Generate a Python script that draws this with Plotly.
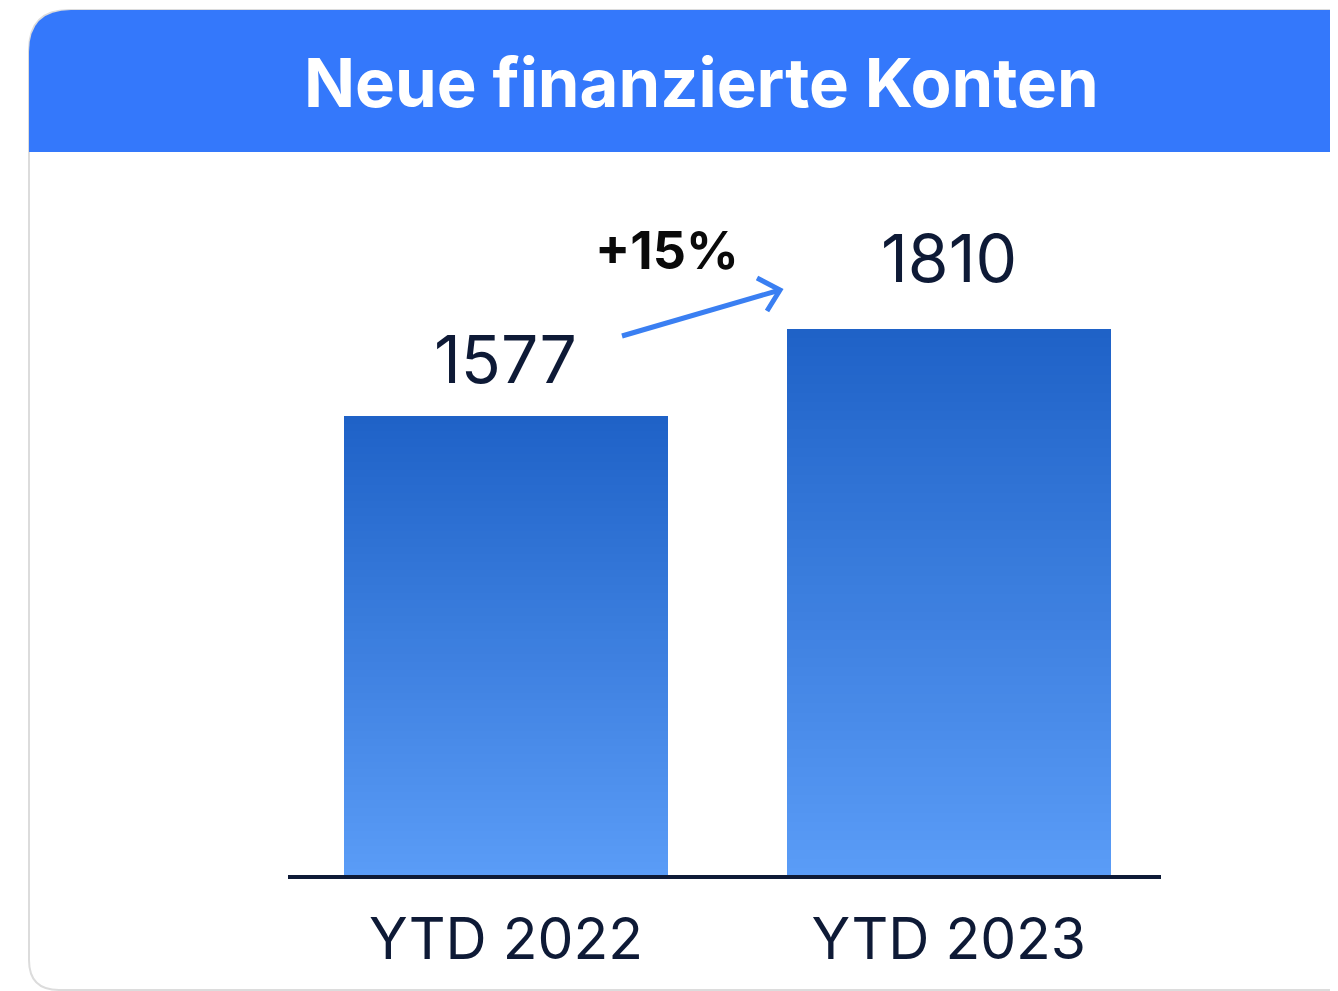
import plotly.graph_objects as go

# ---- data ----
categories = ["YTD 2022", "YTD 2023"]
values = [1577, 1810]
value_labels = ["1577", "1810"]
change_label = "+15%"
title_text = "Neue finanzierte Konten"

# ---- layout constants (pixels, page coords; page has 8px body offset) ----
OFF = 8
W, H = 1330, 983
L, T = 288 - OFF, 160 - OFF
R = W - (1161 - OFF)
B = H - (877 - OFF)
PW, PH = W - L - R, H - T - B
Y0, Y1 = 342.4, 2262.6
X0, X1 = -0.492, 1.479
BAR_W = 0.731
LABEL_SHIFTS = [15, 29]

TOP_C = (31, 98, 199)
BOT_C = (90, 156, 247)
NAVY = "#0e1a36"


def px(x):
    return (x - OFF - L) / PW


def py(y):
    return (H - B - (y - OFF)) / PH


def lerp(c1, c2, t):
    return "rgb(%d,%d,%d)" % tuple(round(a + (b - a) * t) for a, b in zip(c1, c2))


fig = go.Figure()

# gradient bars: each bar split into thin stacked slices
N = 60
for i, (cat, v) in enumerate(zip(categories, values)):
    step = (v - Y0) / N
    bases = [Y0 + k * step for k in range(N)]
    cols = [lerp(BOT_C, TOP_C, (k + 0.5) / N) for k in range(N)]
    fig.add_trace(go.Bar(
        x=[i] * N, y=[step * 1.02] * N, base=bases, width=BAR_W,
        marker=dict(color=cols, line=dict(width=0)),
        showlegend=False, hoverinfo="skip",
    ))

# value labels
for i, (v, lab) in enumerate(zip(values, value_labels)):
    fig.add_annotation(x=i, y=v, text=lab, showarrow=False, yanchor="bottom",
                       yshift=LABEL_SHIFTS[i], font=dict(family="Inter", size=66, color=NAVY))

shapes = []
# card background + border
card = (f"M {px(1400)},{py(1010)} L {px(1400)},{py(10)} L {px(69)},{py(10)} "
        f"Q {px(29)},{py(10)} {px(29)},{py(50)} L {px(29)},{py(960)} "
        f"Q {px(29)},{py(990)} {px(59)},{py(990)} L {px(1400)},{py(990)}")
shapes.append(dict(type="path", xref="paper", yref="paper", path=card,
                   fillcolor="white", line=dict(color="#dcdcdc", width=2), layer="below"))
# header band
hdr = (f"M {px(29)},{py(152)} L {px(29)},{py(52)} Q {px(29)},{py(10)} {px(71)},{py(10)} "
       f"L {px(1400)},{py(10)} L {px(1400)},{py(152)} Z")
shapes.append(dict(type="path", xref="paper", yref="paper", path=hdr,
                   fillcolor="#3478fb", line=dict(width=0), layer="below"))
# baseline
shapes.append(dict(type="line", xref="paper", yref="paper", x0=0, x1=1, y0=0, y1=0,
                   line=dict(color=NAVY, width=4)))
# change arrow
ax0, ay0, ax1, ay1 = 622, 336, 780, 290
shapes.append(dict(type="line", xref="paper", yref="paper",
                   x0=px(ax0), y0=py(ay0), x1=px(ax1), y1=py(ay1),
                   line=dict(color="#3a7ff2", width=5)))
shapes.append(dict(type="path", xref="paper", yref="paper",
                   path=f"M {px(757)},{py(278)} L {px(ax1)},{py(ay1)} L {px(767)},{py(311)}",
                   line=dict(color="#3a7ff2", width=5)))
fig.update_layout(shapes=shapes)

fig.add_annotation(xref="paper", yref="paper", x=px(667), y=py(250), text=f"<b>{change_label}</b>",
                   showarrow=False, xanchor="center", yanchor="middle",
                   font=dict(family="Inter", size=52, color="#0a0a0a"))

fig.add_annotation(xref="paper", yref="paper", x=px(701), y=py(82), text=f"<b>{title_text}</b>",
                   showarrow=False, xanchor="center", yanchor="middle",
                   font=dict(family="Inter", size=67, color="white"))

fig.update_layout(
    width=W, height=H, margin=dict(l=L, r=R, t=T, b=B, autoexpand=False),
    paper_bgcolor="white", plot_bgcolor="rgba(0,0,0,0)",
    barmode="overlay", bargap=0,
    xaxis=dict(range=[X0, X1], tickmode="array", tickvals=[0, 1], ticktext=categories,
               showgrid=False, zeroline=False, showline=False, ticks="",
               tickfont=dict(family="Inter", size=57, color=NAVY), ticklabelstandoff=24),
    yaxis=dict(range=[Y0, Y1], visible=False, showgrid=False, zeroline=False),
    font=dict(family="Inter"),
)

fig.write_html("out.html")
